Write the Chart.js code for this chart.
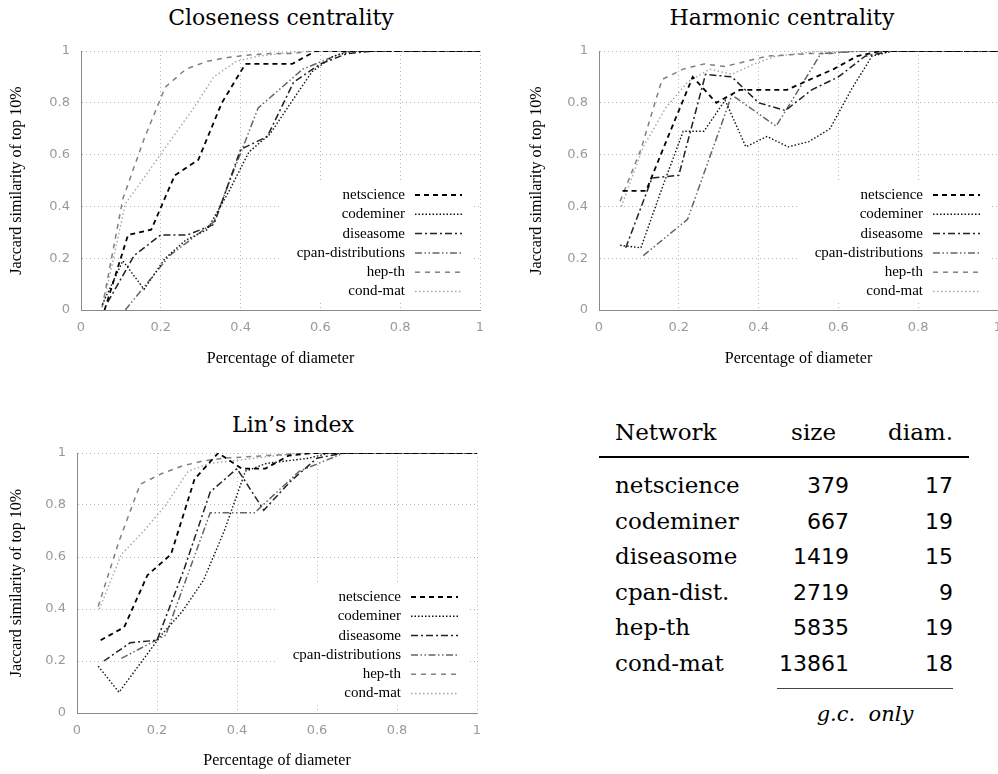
<!DOCTYPE html>
<html>
<head>
<meta charset="utf-8">
<script src="https://cdn.jsdelivr.net/npm/chart.js@4.4.0/dist/chart.umd.min.js"></script>
<style>
  body { margin: 0; background: #fff; width: 998px; height: 774px; overflow: hidden; position: relative; }
  .panel { position: absolute; }
  .titulo { position: absolute; font-family: "DejaVu Serif", serif; font-size: 22px; color: #000;
            white-space: nowrap; transform: translate(-50%, -50%); }
  .celda { position: absolute; white-space: nowrap; transform: translateY(-50%); font-size: 23px; color: #000; }
  .serif { font-family: "DejaVu Serif", serif; }
  .sans { font-family: "DejaVu Sans", sans-serif; font-size: 22px; }
  .regla { position: absolute; background: #000; }
</style>
</head>
<body>
<div class="titulo" style="left:281px; top:17px;">Closeness centrality</div>
<div class="titulo" style="left:782px; top:17px;">Harmonic centrality</div>
<div class="titulo" style="left:293px; top:424px;">Lin’s index</div>

<div class="panel" style="left:0; top:0; width:490px; height:380px;"><canvas id="chartCloseness"></canvas></div>
<div class="panel" style="left:510px; top:0; width:488px; height:380px;"><canvas id="chartHarmonic"></canvas></div>
<div class="panel" style="left:0; top:400px; width:490px; height:374px;"><canvas id="chartLin"></canvas></div>

<div id="tabla"></div>

<script>
// Redes y posiciones x (paso / diámetro)
const redes = ['netscience', 'codeminer', 'diseasome', 'cpan-distributions', 'hep-th', 'cond-mat'];
const xD17 = [0.059, 0.118, 0.176, 0.235, 0.294, 0.353, 0.412, 0.471, 0.529, 0.588, 0.647, 0.706, 0.765, 0.824, 0.882, 0.941, 1];
const xD19 = [0.053, 0.105, 0.158, 0.211, 0.263, 0.316, 0.368, 0.421, 0.474, 0.526, 0.579, 0.632, 0.684, 0.737, 0.789, 0.842, 0.895, 0.947, 1];
const xD15 = [0.067, 0.133, 0.2, 0.267, 0.333, 0.4, 0.467, 0.533, 0.6, 0.667, 0.733, 0.8, 0.867, 0.933, 1];
const xD9 = [0.111, 0.222, 0.333, 0.444, 0.556, 0.667, 0.778, 0.889, 1];
const xD18 = [0.056, 0.111, 0.167, 0.222, 0.278, 0.333, 0.389, 0.444, 0.5, 0.556, 0.611, 0.667, 0.722, 0.778, 0.833, 0.889, 0.944, 1];
const xPorRed = [xD17, xD19, xD15, xD9, xD19, xD18];

// Closeness centrality
const cNet = [0, 0.29, 0.31, 0.52, 0.58, 0.80, 0.95, 0.95, 0.95, 1, 1, 1, 1, 1, 1, 1, 1];
const cCode = [0.02, 0.19, 0.08, 0.2, 0.27, 0.31, 0.45, 0.61, 0.68, 0.8, 0.92, 0.98, 1, 1, 1, 1, 1, 1, 1];
const cDis = [0.03, 0.21, 0.29, 0.29, 0.33, 0.62, 0.67, 0.88, 0.95, 0.99, 1, 1, 1, 1, 1];
const cCpan = [0, 0.21, 0.34, 0.78, 0.93, 1, 1, 1, 1];
const cHep = [0.01, 0.43, 0.66, 0.86, 0.93, 0.96, 0.975, 0.985, 0.99, 0.99, 1, 1, 1, 1, 1, 1, 1, 1, 1];
const cCond = [0.02, 0.41, 0.53, 0.65, 0.77, 0.9, 0.96, 0.98, 0.99, 1, 1, 1, 1, 1, 1, 1, 1, 1];

// Harmonic centrality
const hNet = [0.46, 0.46, 0.68, 0.90, 0.80, 0.85, 0.85, 0.85, 0.89, 0.93, 0.98, 1, 1, 1, 1, 1, 1];
const hCode = [0.25, 0.24, 0.47, 0.69, 0.69, 0.81, 0.63, 0.67, 0.63, 0.65, 0.70, 0.85, 0.98, 1, 1, 1, 1, 1, 1];
const hDis = [0.24, 0.51, 0.52, 0.91, 0.90, 0.80, 0.77, 0.85, 0.90, 0.98, 1, 1, 1, 1, 1];
const hCpan = [0.21, 0.35, 0.83, 0.71, 0.99, 1, 1, 1, 1];
const hHep = [0.42, 0.62, 0.89, 0.93, 0.95, 0.94, 0.96, 0.98, 0.985, 0.99, 0.99, 1, 1, 1, 1, 1, 1, 1, 1];
const hCond = [0.40, 0.63, 0.78, 0.88, 0.93, 0.91, 0.95, 0.98, 0.99, 1, 1, 1, 1, 1, 1, 1, 1, 1];

// Lin's index
const lNet = [0.28, 0.33, 0.53, 0.61, 0.90, 1, 0.94, 0.94, 0.99, 1, 1, 1, 1, 1, 1, 1, 1];
const lCode = [0.18, 0.08, 0.19, 0.30, 0.39, 0.51, 0.70, 0.93, 0.96, 0.97, 0.98, 1, 1, 1, 1, 1, 1, 1, 1];
const lDis = [0.20, 0.27, 0.28, 0.55, 0.85, 0.94, 0.78, 0.89, 0.98, 1, 1, 1, 1, 1, 1];
const lCpan = [0.21, 0.30, 0.77, 0.77, 0.93, 1, 1, 1, 1];
const lHep = [0.41, 0.66, 0.88, 0.92, 0.95, 0.97, 0.98, 0.985, 0.99, 0.995, 1, 1, 1, 1, 1, 1, 1, 1, 1];
const lCond = [0.40, 0.61, 0.70, 0.80, 0.93, 0.96, 0.97, 0.98, 0.99, 1, 1, 1, 1, 1, 1, 1, 1, 1];

const ticksEjes = [0, 0.2, 0.4, 0.6, 0.8, 1];
const etiquetasEjes = ['0', '0.2', '0.4', '0.6', '0.8', '1'];

// Tabla
const tablaRedes = ['netscience', 'codeminer', 'diseasome', 'cpan-dist.', 'hep-th', 'cond-mat'];
const tablaSize = [379, 667, 1419, 2719, 5835, 13861];
const tablaDiam = [17, 19, 15, 9, 19, 18];

// Estilos de línea (estilo gnuplot en gris)
const estilos = [
  { color: '#000000', dash: [5, 4], width: 1.8 },
  { color: '#111111', dash: [1.5, 2], width: 1.4 },
  { color: '#222222', dash: [7, 3, 2, 3], width: 1.5 },
  { color: '#666666', dash: [7, 2.5, 1.5, 2.5, 1.5, 2.5], width: 1.5 },
  { color: '#808080', dash: [5, 5], width: 1.5 },
  { color: '#a6a6a6', dash: [1.5, 2.5], width: 1.4 }
];

// Leyenda dibujada dentro del área, con fondo blanco
const leyendaPlugin = {
  id: 'leyendaGnuplot',
  beforeDatasetsDraw(chart) {
    const a = chart.chartArea, ctx = chart.ctx;
    ctx.save();
    ctx.fillStyle = '#fff';
    ctx.fillRect(a.left + 198, a.top + 132, 192, 120);
    ctx.restore();
  },
  afterDatasetsDraw(chart) {
    const a = chart.chartArea, ctx = chart.ctx;
    ctx.save();
    ctx.font = '15px "Liberation Serif", serif';
    ctx.textAlign = 'right';
    ctx.textBaseline = 'middle';
    chart.data.datasets.forEach((ds, i) => {
      const y = a.top + 144 + i * 19.3;
      ctx.fillStyle = '#000';
      ctx.fillText(ds.label, a.left + 324, y);
      ctx.strokeStyle = ds.borderColor;
      ctx.lineWidth = ds.borderWidth;
      ctx.setLineDash(ds.borderDash);
      ctx.beginPath();
      ctx.moveTo(a.left + 334, y);
      ctx.lineTo(a.left + 381, y);
      ctx.stroke();
    });
    ctx.restore();
  }
};

function crearGrafico(id, series, geo) {
  const datasets = redes.map((nombre, i) => ({
    label: nombre,
    data: xPorRed[i].map((x, k) => ({ x: x, y: series[i][k] })),
    borderColor: estilos[i].color,
    borderDash: estilos[i].dash,
    borderWidth: estilos[i].width,
    pointRadius: 0,
    fill: false,
    tension: 0
  }));

  const ejeBase = {
    type: 'linear', min: 0, max: 1,
    afterBuildTicks: (s) => { s.ticks = ticksEjes.map(v => ({ value: v })); },
    grid: { color: '#b5b5b5', lineWidth: 1, drawTicks: false },
    border: { display: true, color: '#8a8a8a', width: 1, dash: [1, 3] }
  };
  const fmt = (v) => etiquetasEjes[ticksEjes.indexOf(v)];

  return new Chart(document.getElementById(id), {
    type: 'line',
    data: { datasets: datasets },
    options: {
      animation: false,
      responsive: true,
      maintainAspectRatio: false,
      layout: { padding: { left: 0, top: geo.top, right: geo.right, bottom: 0 } },
      plugins: { legend: { display: false }, tooltip: { enabled: false } },
      scales: {
        x: Object.assign({}, ejeBase, {
          ticks: { color: '#9a9a9a', font: { family: 'DejaVu Sans', size: 13 }, padding: 10, maxRotation: 0, callback: fmt },
          title: { display: true, text: 'Percentage of diameter', color: '#000',
                   font: { family: 'Liberation Serif', size: 16 }, padding: { top: 0, bottom: geo.xTitlePad } },
          afterFit: (s) => { s.height = geo.xh; s.paddingLeft = 0; s.paddingRight = 0; }
        }),
        y: Object.assign({}, ejeBase, {
          ticks: { color: '#9a9a9a', font: { family: 'DejaVu Sans', size: 13 }, padding: 11, callback: fmt },
          title: { display: true, text: 'Jaccard similarity of top 10%', color: '#000',
                   font: { family: 'Liberation Serif', size: 16 }, padding: { top: geo.yTitlePad, bottom: 0 } },
          afterFit: (s) => { s.width = geo.yw; }
        })
      }
    },
    plugins: [leyendaPlugin]
  });
}

crearGrafico('chartCloseness', [cNet, cCode, cDis, cCpan, cHep, cCond],
  { top: 51, right: 10, yw: 81, xh: 70, xTitlePad: 12, yTitlePad: 7 });
crearGrafico('chartHarmonic', [hNet, hCode, hDis, hCpan, hHep, hCond],
  { top: 51, right: 0, yw: 89, xh: 70, xTitlePad: 12, yTitlePad: 17 });
crearGrafico('chartLin', [lNet, lCode, lDis, lCpan, lHep, lCond],
  { top: 53, right: 13, yw: 77, xh: 61, xTitlePad: 4, yTitlePad: 7 });

// Construcción de la tabla a la derecha
function celda(texto, clase, estilo) {
  const d = document.createElement('div');
  d.className = 'celda ' + clase;
  d.textContent = texto;
  d.setAttribute('style', estilo);
  document.getElementById('tabla').appendChild(d);
}

celda('Network', 'serif', 'left:615px; top:432px;');
celda('size', 'serif', 'right:' + (998 - 836) + 'px; top:432px;');
celda('diam.', 'serif', 'right:' + (998 - 953) + 'px; top:432px;');

tablaRedes.forEach((nombre, i) => {
  const y = 485 + i * 35.5;
  celda(nombre, 'serif', 'left:615px; top:' + y + 'px;');
  celda(String(tablaSize[i]), 'sans', 'right:' + (998 - 849) + 'px; top:' + y + 'px;');
  celda(String(tablaDiam[i]), 'sans', 'right:' + (998 - 953) + 'px; top:' + y + 'px;');
});

celda('g.c.  only', 'serif', 'left:865px; top:714px; transform:translate(-50%,-50%); font-style:italic; font-size:21px; white-space:pre;');

const reglaTop = document.createElement('div');
reglaTop.className = 'regla';
reglaTop.setAttribute('style', 'left:599px; top:456px; width:370px; height:2px;');
document.getElementById('tabla').appendChild(reglaTop);

const reglaBottom = document.createElement('div');
reglaBottom.className = 'regla';
reglaBottom.setAttribute('style', 'left:777px; top:688px; width:176px; height:1px; background:#444;');
document.getElementById('tabla').appendChild(reglaBottom);
</script>
</body>
</html>
